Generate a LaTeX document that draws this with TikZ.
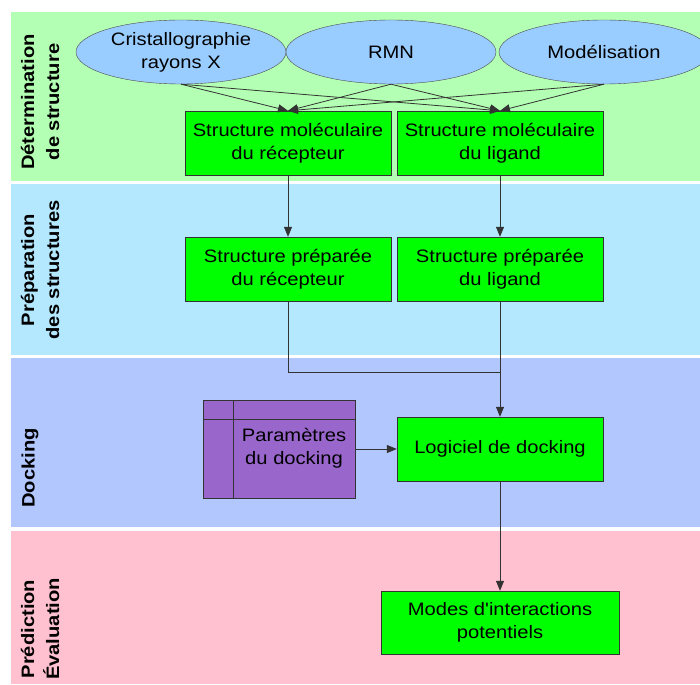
\documentclass[tikz,border=0pt]{standalone}
\usepackage{fontspec}
\setmainfont{Liberation Sans}[FakeStretch=1.12, Ligatures=TeXOff]
\usetikzlibrary{arrows.meta,shapes.geometric}
\definecolor{fondstructure}{RGB}{179,255,179}
\definecolor{fondpreparation}{RGB}{179,232,255}
\definecolor{fonddocking}{RGB}{179,199,255}
\definecolor{fondprediction}{RGB}{255,192,207}
\definecolor{ciel}{RGB}{153,204,255}
\definecolor{vert}{RGB}{0,255,0}
\definecolor{violet}{RGB}{153,102,204}
\tikzset{
  etape/.style={draw=black!80, fill=vert, minimum width=206pt, minimum height=64pt,
    inner sep=0pt, align=center, font=\fontsize{18}{23}\selectfont},
  source/.style={ellipse, draw=black!70, fill=ciel, minimum width=210pt, minimum height=64pt,
    inner sep=0pt, align=center, font=\fontsize{18}{23}\selectfont},
  phase/.style={rotate=90, align=center, font=\fontsize{18}{25}\selectfont\bfseries},
  fleche/.style={-{Triangle[length=10pt,width=8pt]}, draw=black!80, line width=0.8pt},
  trait/.style={draw=black!80, line width=0.8pt}
}
\begin{document}
\begin{tikzpicture}[x=1pt,y=-1pt]
      \useasboundingbox (0,0) rectangle (700,684);
      \fill[fondstructure] (11,12) rectangle (700,181);
      \fill[fondpreparation] (11,184) rectangle (700,355);
      \fill[fonddocking] (11,358) rectangle (700,527);
      \fill[fondprediction] (11,531) rectangle (700,684);
      \path
        (40,102) node[phase] (determination){Détermination\\de structure}
        (40,270) node[phase] (preparation){Préparation\\des structures}
        (30,468) node[phase] (docking){Docking}
        (40,629) node[phase] (prediction){Prédiction\\Évaluation};
      \path
        (181,52) node[source] (cristallo){Cristallographie\\rayons X}
        (391,52) node[source] (rmn){RMN}
        (604,52) node[source] (modelisation){Modélisation};
      \path
        (288,143) node[etape] (smr){Structure moléculaire\\du récepteur}
        (500,143) node[etape] (sml){Structure moléculaire\\du ligand}
        (288,269) node[etape] (spr){Structure préparée\\du récepteur}
        (500,269) node[etape] (spl){Structure préparée\\du ligand}
        (500,449) node[etape] (logiciel){Logiciel de docking}
        (500,622.5) node[etape, minimum width=238pt, minimum height=63pt] (modes){Modes d'interactions\\potentiels};
      \node[draw=black!80, fill=violet, minimum width=152pt, minimum height=98pt] (param) at (279,449) {};
      \draw[black!80] ([xshift=30pt]param.north west) -- ([xshift=30pt]param.south west);
      \draw[black!80] ([yshift=-19pt]param.north west) -- ([yshift=-19pt]param.north east);
      \node[align=center, font=\fontsize{18}{23}\selectfont] (paramtexte) at (294,448) {Paramètres\\du docking};
      \coordinate (jonction) at (500,372);
      \begin{scope}[fleche]
        \draw (cristallo.south) to (smr.north);
        \draw (cristallo.south) to (sml.north);
        \draw (rmn.south) to (smr.north);
        \draw (rmn.south) to (sml.north);
        \draw (modelisation.south) to (smr.north);
        \draw (modelisation.south) to (sml.north);
        \draw (smr) to (spr);
        \draw (sml) to (spl);
        \draw (spl) to (logiciel);
        \draw (param) to (logiciel);
        \draw (logiciel) to (modes);
      \end{scope}
      \draw[trait] (spr.south) |- (jonction);
    \end{tikzpicture}
\end{document}
